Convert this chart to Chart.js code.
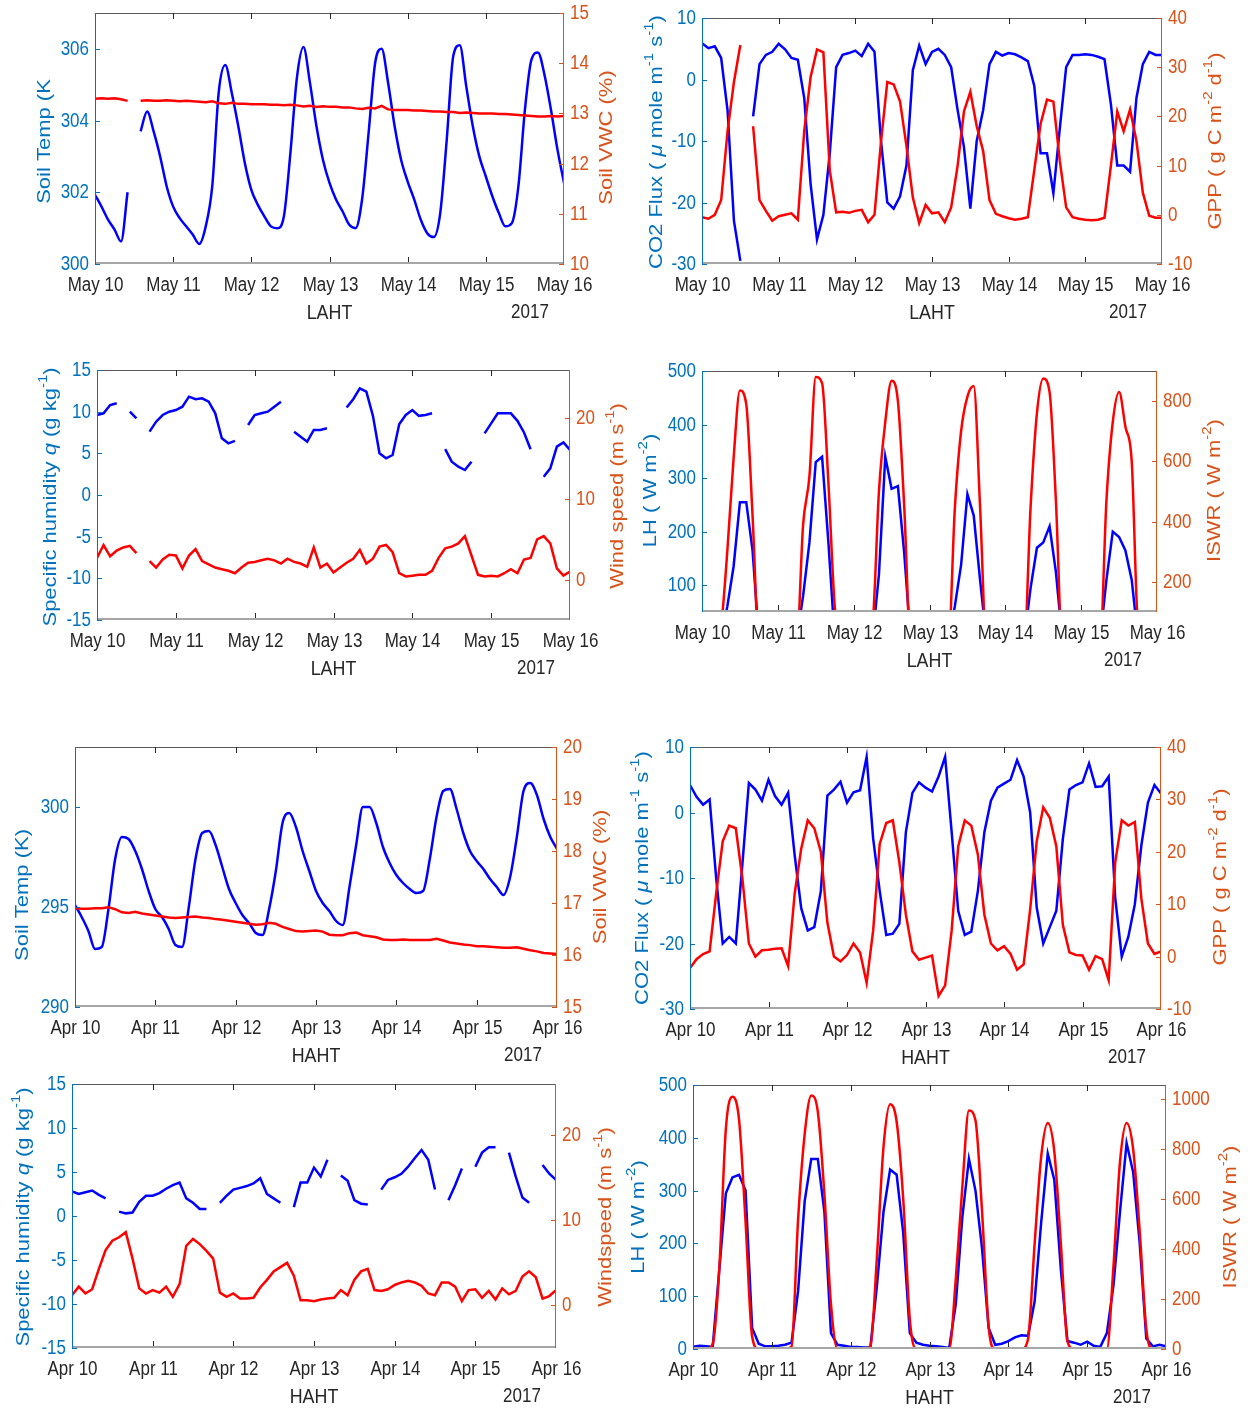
<!DOCTYPE html>
<html>
<head>
<meta charset="utf-8">
<script src="https://cdn.jsdelivr.net/npm/chart.js@4"></script>
<style>
  html, body { margin: 0; padding: 0; background: #fff; }
  #fig { position: relative; width: 1250px; height: 1412px; overflow: hidden; }
  #fig canvas { position: absolute; }
</style>
</head>
<body>
<div id="fig"></div>
<script>
// ---- data: one value every 2 hours, 6 days (73 values), null = missing ----
const mayLabels = ['May 10', 'May 11', 'May 12', 'May 13', 'May 14', 'May 15', 'May 16'];
const aprLabels = ['Apr 10', 'Apr 11', 'Apr 12', 'Apr 13', 'Apr 14', 'Apr 15', 'Apr 16'];
const dayTicks = [0, 1, 2, 3, 4, 5, 6];

const lahtSoilTemp = [
  301.93, 301.6, 301.24, 300.96, 300.63, 302.0, null, 303.7, 304.25, 303.7, 303.0, 302.17,
  301.6, 301.28, 301.05, 300.82, 300.56, 301.05, 302.17, 304.8, 305.55, 304.77, 303.84, 302.82,
  302.07, 301.65, 301.33, 301.05, 301.0, 301.33, 303.1, 305.2, 306.05, 305.05, 303.84, 302.9,
  302.26, 301.8, 301.47, 301.1, 301.0, 301.8, 303.65, 305.6, 306.0, 305.05, 303.84, 302.9,
  302.3, 301.8, 301.24, 300.86, 300.75, 301.42, 303.47, 305.8, 306.1, 304.95, 303.84, 303.0,
  302.44, 301.89, 301.42, 301.05, 301.14, 302.17, 304.3, 305.7, 305.9, 305.28, 304.3, 303.19,
  302.26
];
const lahtSoilVwc = [
  13.29, 13.30, 13.29, 13.30, 13.28, 13.25, null, 13.25, 13.26, 13.25, 13.25, 13.26,
  13.25, 13.24, 13.25, 13.24, 13.23, 13.22, 13.24, 13.20, 13.19, 13.21, 13.19, 13.19,
  13.18, 13.18, 13.18, 13.17, 13.17, 13.16, 13.17, 13.16, 13.14, 13.15, 13.13, 13.14,
  13.13, 13.13, 13.12, 13.12, 13.10, 13.09, 13.11, 13.10, 13.15, 13.08, 13.07, 13.07,
  13.07, 13.06, 13.06, 13.05, 13.04, 13.04, 13.03, 13.03, 13.01, 13.02, 13.01, 13.00,
  13.00, 13.00, 12.99, 12.99, 12.98, 12.97, 12.96, 12.95, 12.94, 12.94, 12.95, 12.94,
  12.95
];
const lahtCo2Flux = [
  5.9, 5.1, 5.4, 3.5, -5, -23, -29.5, null, -6, 2.5, 4.0, 4.5,
  5.8, 4.9, 3.5, 3.2, -3, -17, -26, -22, -12, 2.0, 4.0, 4.3,
  4.7, 3.8, 5.8, 4.5, -9.8, -20, -21, -19, -14, 1.5, 5.5, 2.5,
  4.5, 5.0, 4.0, 2.0, -4.9, -11, -21, -10, -5, 2.5, 4.5, 3.9,
  4.3, 4.1, 3.6, 3.0, -1, -12, -12, -18.5, -8, 2.0, 4.0, 4.0,
  4.1, 4.0, 3.7, 3.3, -4, -14, -14, -15, -3, 2.5, 4.5, 4.0,
  4.0
];
const lahtGpp = [
  -0.5, -0.8, 0.0, 3, 17, 27, 34.5, null, 18, 3, 0.8, -1.2,
  -0.3, 0, 0.3, -1, 17, 28, 33.6, 33, 9, 0.5, 0.6, 0.4,
  0.8, 1.0, -1.5, 0, 14.6, 27, 26.5, 23, 14, 3.5, -1.7, 2,
  0.3, 0.5, -1.5, 1.5, 9.9, 21, 25, 18, 13, 3, 0.2, -0.3,
  -0.7, -1, -0.8, -0.5, 9, 18.5, 23.4, 23, 11, 1.5, -0.5, -0.8,
  -1, -1.1, -1, -0.6, 10, 21, 17, 21.4, 15, 4.5, -0.2, -0.6,
  -0.6
];
const lahtHumidity = [
  9.6, 9.8, 10.8, 11.0, null, 10.0, 9.2, null, 7.6, 8.8, 9.6, 10.0,
  10.2, 10.6, 11.8, 11.5, 11.6, 11.2, 9.8, 6.8, 6.2, 6.5, null, 8.4,
  9.6, 9.8, 10.0, 10.6, 11.2, null, 7.6, 7.0, 6.4, 7.8, 7.8, 8.0,
  null, null, 10.5, 11.5, 12.8, 12.4, 9.5, 5.0, 4.4, 4.8, 8.5, 9.6,
  10.2, 9.5, 9.6, 9.8, null, 5.5, 4.0, 3.4, 3.0, 4.0, null, 7.4,
  8.6, 9.8, 9.8, 9.8, 8.9, 7.5, 5.5, null, 2.2, 3.2, 5.8, 6.3,
  5.4
];
const lahtWind = [
  2.7, 4.3, 2.9, 3.6, 4.0, 4.2, 3.3, null, 2.3, 1.5, 2.5, 3.1,
  3.0, 1.4, 3.0, 3.8, 2.3, 1.9, 1.5, 1.3, 1.1, 0.8, 1.5, 2.1,
  2.2, 2.4, 2.6, 2.4, 2.0, 2.6, 2.2, 2.0, 1.6, 4.0, 1.5, 2.0,
  0.9, 1.5, 2.1, 2.6, 3.7, 2.0, 2.6, 4.1, 4.3, 3.4, 0.8, 0.4,
  0.5, 0.6, 0.6, 1.1, 2.7, 3.9, 4.1, 4.5, 5.4, 3.0, 0.6, 0.4,
  0.5, 0.4, 0.8, 1.3, 0.8, 2.5, 2.7, 5.0, 5.4, 4.5, 1.4, 0.5,
  1.0
];
const lahtLh = [
  0, 0, 0, 0, 60, 135, 255, 255, 165, 0, 0, 0,
  0, 0, 0, 0, 80, 180, 330, 340, 180, 0, 0, 0,
  0, 0, 0, 0, 120, 340, 280, 285, 160, 0, 0, 0,
  0, 0, 0, 0, 60, 138, 270, 230, 110, 0, 0, 0,
  0, 0, 0, 0, 95, 170, 180, 210, 125, 0, 0, 0,
  0, 0, 0, 0, 110, 200, 190, 165, 110, 0, 0, 0,
  0
];
const lahtIswr = [
  0, 0, 0, 50, 300, 610, 835, 790, 420, 0, 0, 0,
  0, 0, 0, 0, 390, 550, 880, 860, 530, 120, 0, 0,
  0, 0, 0, 60, 500, 730, 868, 800, 450, 0, 0, 0,
  0, 0, 0, 0, 440, 700, 815, 850, 450, 0, 0, 0,
  0, 0, 0, 0, 450, 760, 875, 830, 470, 0, 0, 0,
  0, 0, 0, 0, 470, 730, 830, 715, 600, 50, 0, 0,
  0
];

const hahtSoilTemp = [
  295.1, 294.5, 293.8, 292.9, 293.0, 294.9, 297.4, 298.5, 298.4, 297.8, 296.9, 295.8,
  294.9, 294.5, 293.9, 293.1, 293.0, 295.0, 297.4, 298.7, 298.8, 298.1, 297.0, 295.9,
  295.2, 294.6, 294.2, 293.7, 293.6, 294.9, 296.8, 299.2, 299.7, 299.0, 297.8, 296.8,
  295.8, 295.2, 294.8, 294.3, 294.1, 296.0, 298.1, 300.0, 300.0, 299.2, 298.0, 297.2,
  296.6, 296.2, 295.9, 295.7, 295.8, 297.4, 299.5, 300.8, 300.9, 299.9, 298.7, 297.8,
  297.3, 296.9, 296.4, 296.0, 295.6, 296.5, 298.5, 300.8, 301.2, 300.6, 299.4, 298.5,
  297.9
];
const hahtSoilVwc = [
  16.90, 16.89, 16.89, 16.90, 16.90, 16.92, 16.88, 16.82, 16.81, 16.83, 16.80, 16.78,
  16.76, 16.74, 16.72, 16.71, 16.72, 16.73, 16.74, 16.72, 16.71, 16.69, 16.68, 16.66,
  16.64, 16.62, 16.60, 16.58, 16.59, 16.62, 16.60, 16.54, 16.50, 16.46, 16.45, 16.46,
  16.47, 16.45, 16.39, 16.38, 16.38, 16.42, 16.43, 16.38, 16.36, 16.34, 16.30, 16.29,
  16.29, 16.30, 16.29, 16.29, 16.29, 16.29, 16.31, 16.28, 16.24, 16.22, 16.20, 16.19,
  16.17, 16.17, 16.16, 16.15, 16.14, 16.14, 16.15, 16.12, 16.09, 16.07, 16.04, 16.03,
  16.02
];
const hahtCo2Flux = [
  4.2, 2.4, 1.2, 2.0, -10, -20, -19, -20, -8, 4.5, 3.5, 1.8,
  5.0, 2.5, 1.2, 3.0, -6.5, -14.6, -18, -17.5, -12, 2.6, 3.5, 4.7,
  1.5, 3.1, 3.4, 8.5, -4, -12, -18.7, -18.5, -17, -3, 3.0, 4.6,
  3.8, 3.2, 5.5, 8.5, -3, -15, -18.7, -18.2, -12, -3, 1.8, 3.8,
  4.4, 5.0, 8.0, 5.5, 0, -14.5, -20, -17.5, -15, -4, 3.5, 4.2,
  4.6, 7.5, 3.9, 4.0, 5.5, -13, -22, -19, -14, -5, 1.5, 4.2,
  2.9
];
const hahtGpp = [
  -2.2, -0.5, 0.5, 1.0, 12, 22, 25, 24.5, 15, 2.5, 0, 1.2,
  1.3, 1.5, 1.6, -1.8, 12, 20.6, 26, 24.5, 20, 6.5, 0, -0.9,
  0.3, 2.5, 0.8, -5, 5, 21.5, 25.5, 26, 18, 8, 1.0, -0.6,
  -0.2, 0.2, -7.5, -5.5, 5, 21, 26, 25, 19.5, 8, 2.5, 1.2,
  2.0, 0.5, -2.5, -1.5, 9, 22, 28.5, 26.5, 21, 6, 0.8, 0.3,
  0.2, -2.5, 0.1, -0.5, -4.5, 18, 26, 25, 25.7, 11, 2.5, 0.5,
  1.0
];
const hahtHumidity = [
  2.8, 2.5, 2.7, 2.9, 2.4, 2.0, null, 0.5, 0.3, 0.4, 1.6, 2.3,
  2.3, 2.6, 3.1, 3.5, 3.8, 2.0, 1.5, 0.8, 0.8, null, 1.5, 2.3,
  3.0, 3.2, 3.4, 3.7, 4.3, 2.5, 2.0, 1.5, null, 1.0, 3.8, 3.8,
  5.5, 4.5, 6.4, null, 4.6, 4.0, 1.8, 1.4, 1.3, null, 3.0, 4.1,
  4.4, 4.8, 5.6, 6.6, 7.5, 6.4, 3.0, null, 1.8, 3.5, 5.4, null,
  5.6, 7.2, 7.8, 7.8, null, 7.2, 4.5, 2.1, 1.5, null, 5.8, 4.8,
  4.1
];
const hahtWind = [
  1.2, 2.2, 1.4, 1.9, 4.3, 6.5, 7.6, 8.0, 8.6, 5.5, 2.0, 1.4,
  1.8, 1.5, 2.2, 1.0, 2.5, 7.0, 7.8, 7.2, 6.4, 5.5, 1.5, 1.0,
  1.4, 0.8, 0.8, 0.9, 2.1, 3.0, 4.0, 4.5, 5.0, 3.5, 0.6, 0.6,
  0.5, 0.7, 0.8, 0.9, 1.8, 1.2, 3.0, 4.0, 4.3, 1.8, 1.7, 1.9,
  2.4, 2.7, 2.9, 2.7, 2.3, 1.4, 1.2, 2.7, 2.7, 2.2, 0.5, 1.8,
  1.9, 0.9, 1.7, 0.7, 2.0, 1.3, 1.7, 3.4, 4.0, 3.3, 0.8, 1.1,
  1.8
];
const hahtLh = [
  4, 6, 5, 4, 150, 295, 325, 330, 300, 40, 10, 5,
  5, 6, 8, 12, 110, 280, 360, 360, 260, 30, 8, 6,
  4, 4, 3, 3, 120, 260, 340, 330, 220, 30, 12, 8,
  6, 5, 4, 2, 85, 250, 360, 300, 190, 40, 8, 10,
  15, 22, 26, 25, 90, 240, 370, 320, 150, 15, 12, 8,
  14, 6, 4, 30, 120, 260, 390, 335, 200, 20, 5, 8,
  5
];
const hahtIswr = [
  0, 0, 0, 20, 320, 880, 1010, 920, 510, 50, 0, 0,
  0, 0, 0, 10, 520, 860, 1015, 950, 620, 180, 0, 0,
  0, 0, 0, 10, 370, 810, 980, 910, 600, 120, 0, 0,
  0, 0, 0, 0, 280, 650, 955, 915, 550, 90, 0, 0,
  0, 0, 0, 40, 420, 770, 905, 790, 420, 30, 0, 0,
  0, 0, 0, 0, 330, 750, 905, 800, 470, 80, 0, 0,
  0
];

// tick labels
const lahtTempTicks = [300, 302, 304, 306];
const lahtVwcTicks = [10, 11, 12, 13, 14, 15];
const co2Ticks = [-30, -20, -10, 0, 10];
const gppTicks = [-10, 0, 10, 20, 30, 40];
const humidityTicks = [-15, -10, -5, 0, 5, 10, 15];
const windTicks = [0, 10, 20];
const lahtLhTicks = [100, 200, 300, 400, 500];
const lahtIswrTicks = [200, 400, 600, 800];
const hahtTempTicks = [290, 295, 300];
const hahtVwcTicks = [15, 16, 17, 18, 19, 20];
const hahtLhTicks = [0, 100, 200, 300, 400, 500];
const hahtIswrTicks = [0, 200, 400, 600, 800, 1000];

// ---- styling ----
const STEP_DAYS = 2 / 24;
const LINE_BLUE = '#0000ff';
const LINE_RED = '#ff0000';
const AX_BLUE = '#0072bd';
const AX_ORANGE = '#d95319';
const AX_GRAY = '#262626';
const FONT = '"Liberation Sans", Arial, Helvetica, sans-serif';
const SQUEEZE = 0.85;
const PAD = { l: 75, r: 85, t: 25, b: 70 };

const tSoilTemp = [['Soil Temp (K']];
const tSoilTempFull = [['Soil Temp (K)']];
const tVwc = [['Soil VWC (%)']];
const tCo2 = [['CO2 Flux ( '], ['\u03bc', 'i'], [' mole m'], ['-1', 's'], [' s'], ['-1', 's'], [')']];
const tGpp = [['GPP ( g C m'], ['-2', 's'], [' d'], ['-1', 's'], [')']];
const tHum = [['Specific humidity '], ['q', 'i'], [' (g kg'], ['-1', 's'], [')']];
const tWind = [['Wind speed (m s'], ['-1', 's'], [')']];
const tWind2 = [['Windspeed (m s'], ['-1', 's'], [')']];
const tLh = [['LH ( W m'], ['-2', 's'], [')']];
const tIswr = [['ISWR ( W m'], ['-2', 's'], [')']];

// plot boxes in page pixels: [left, top, right, bottom]; smooth = monotone line drawing
const panels = [
  { box: [95, 13, 564, 264], site: 'LAHT', days: mayLabels,
    left: { data: lahtSoilTemp, min: 300, max: 307, ticks: lahtTempTicks, title: tSoilTemp, at: [-50, 3], smooth: true },
    right: { data: lahtSoilVwc, min: 10, max: 15, ticks: lahtVwcTicks, title: tVwc, at: [43, -1] } },
  { box: [702, 18, 1162, 264], site: 'LAHT', days: mayLabels,
    left: { data: lahtCo2Flux, min: -30, max: 10, ticks: co2Ticks, title: tCo2, at: [-45, 1] },
    right: { data: lahtGpp, min: -10, max: 40, ticks: gppTicks, title: tGpp, at: [54, 0] } },
  { box: [97, 370, 570, 620], site: 'LAHT', days: mayLabels,
    left: { data: lahtHumidity, min: -15, max: 15, ticks: humidityTicks, title: tHum, at: [-46, 2] },
    right: { data: lahtWind, min: -5, max: 26, ticks: windTicks, title: tWind, at: [48, 1] } },
  { box: [702, 371, 1157, 612], site: 'LAHT', days: mayLabels,
    left: { data: lahtLh, min: 50, max: 500, ticks: lahtLhTicks, title: tLh, at: [-51, -1] },
    right: { data: lahtIswr, min: 100, max: 900, ticks: lahtIswrTicks, title: tIswr, at: [58, -1], smooth: true } },
  { box: [75, 747, 557, 1007], site: 'HAHT', days: aprLabels,
    left: { data: hahtSoilTemp, min: 290, max: 303, ticks: hahtTempTicks, title: tSoilTempFull, at: [-52, 18], smooth: true },
    right: { data: hahtSoilVwc, min: 15, max: 20, ticks: hahtVwcTicks, title: tVwc, at: [44, 0] } },
  { box: [690, 747, 1161, 1009], site: 'HAHT', days: aprLabels,
    left: { data: hahtCo2Flux, min: -30, max: 10, ticks: co2Ticks, title: tCo2, at: [-47, 0] },
    right: { data: hahtGpp, min: -10, max: 40, ticks: gppTicks, title: tGpp, at: [60, -1] } },
  { box: [72, 1084, 556, 1348], site: 'HAHT', days: aprLabels,
    left: { data: hahtHumidity, min: -15, max: 15, ticks: humidityTicks, title: tHum, at: [-48, 1] },
    right: { data: hahtWind, min: -5, max: 26, ticks: windTicks, title: tWind2, at: [50, 1] } },
  { box: [693, 1085, 1166, 1349], site: 'HAHT', days: aprLabels,
    left: { data: hahtLh, min: 0, max: 500, ticks: hahtLhTicks, title: tLh, at: [-54, 0] },
    right: { data: hahtIswr, min: 0, max: 1057, ticks: hahtIswrTicks, title: tIswr, at: [65, 0], smooth: true } }
];

function toPoints(vals) {
  return vals.map((v, i) => ({ x: i * STEP_DAYS, y: v }));
}

function segFont(seg, size) {
  if (seg[1] === 's') return Math.round(size * 0.7) + 'px ' + FONT;
  if (seg[1] === 'i') return 'italic ' + size + 'px ' + FONT;
  return size + 'px ' + FONT;
}

// rotated axis title, read bottom to top
function drawTitle(ctx, segs, cx, cy, size, color) {
  ctx.save();
  ctx.translate(cx, cy);
  ctx.rotate(-Math.PI / 2);
  ctx.scale(1, SQUEEZE);
  ctx.fillStyle = color;
  ctx.textBaseline = 'middle';
  ctx.textAlign = 'left';
  let w = 0;
  segs.forEach(s => { ctx.font = segFont(s, size); w += ctx.measureText(s[0]).width; });
  let x = -w / 2;
  segs.forEach(s => {
    ctx.font = segFont(s, size);
    ctx.fillText(s[0], x, s[1] === 's' ? -size * 0.4 : 0);
    x += ctx.measureText(s[0]).width;
  });
  ctx.restore();
}

function drawText(ctx, txt, x, y, size, color, align) {
  ctx.save();
  ctx.translate(x, y);
  ctx.scale(SQUEEZE, 1);
  ctx.font = size + 'px ' + FONT;
  ctx.fillStyle = color;
  ctx.textAlign = align;
  ctx.textBaseline = 'middle';
  ctx.fillText(txt, 0, 0);
  ctx.restore();
}

function line(ctx, x1, y1, x2, y2, color, width) {
  ctx.strokeStyle = color;
  ctx.lineWidth = width || 1;
  ctx.beginPath();
  ctx.moveTo(x1, y1);
  ctx.lineTo(x2, y2);
  ctx.stroke();
}

// MATLAB-like box with inward ticks, drawn from the chart's own scales
function axesPlugin(p) {
  return {
    id: 'matlabAxes',
    afterDraw(chart) {
      const ctx = chart.ctx;
      const a = chart.chartArea;
      const sx = chart.scales.x, sl = chart.scales.yL, sr = chart.scales.yR;
      ctx.save();
      line(ctx, a.left, a.top + 0.5, a.right, a.top + 0.5, '#5a5a5a');
      line(ctx, a.left, a.bottom - 1, a.right, a.bottom - 1, '#a6a6a6', 2);
      line(ctx, a.left + 0.5, a.top, a.left + 0.5, a.bottom, AX_BLUE);
      line(ctx, a.right - 0.5, a.top, a.right - 0.5, a.bottom, AX_ORANGE);

      sx.ticks.forEach(t => {
        const px = Math.round(sx.getPixelForValue(t.value)) + 0.5;
        if (t.value > 0 && t.value < 6) {
          line(ctx, px, a.bottom - 2, px, a.bottom - 7, AX_GRAY);
          line(ctx, px, a.top, px, a.top + 6, AX_GRAY);
        }
        drawText(ctx, p.days[t.value], px, a.bottom + 21, 20, AX_GRAY, 'center');
      });
      sl.ticks.forEach(t => {
        const py = Math.round(sl.getPixelForValue(t.value)) + 0.5;
        line(ctx, a.left, py, a.left + 5, py, AX_BLUE);
        drawText(ctx, String(t.value), a.left - 6, py, 20, AX_BLUE, 'right');
      });
      sr.ticks.forEach(t => {
        const py = Math.round(sr.getPixelForValue(t.value)) + 0.5;
        line(ctx, a.right, py, a.right - 5, py, AX_ORANGE);
        drawText(ctx, String(t.value), a.right + 6, py, 20, AX_ORANGE, 'left');
      });

      const cy = (a.top + a.bottom) / 2;
      drawText(ctx, p.site, (a.left + a.right) / 2, a.bottom + 49, 21, AX_GRAY, 'center');
      drawText(ctx, '2017', a.right - 34, a.bottom + 48, 20, AX_GRAY, 'center');
      drawTitle(ctx, p.left.title, a.left + p.left.at[0], cy + p.left.at[1], 22, AX_BLUE);
      drawTitle(ctx, p.right.title, a.right + p.right.at[0], cy + p.right.at[1], 22, AX_ORANGE);
      ctx.restore();
    }
  };
}

function yScale(side, cfg, pos) {
  return {
    type: 'linear',
    position: pos,
    min: cfg.min,
    max: cfg.max,
    grid: { display: false },
    border: { display: false },
    ticks: { display: false },
    afterBuildTicks: s => { s.ticks = cfg.ticks.map(v => ({ value: v })); },
    afterFit: s => { s.width = side; }
  };
}

function lineSet(cfg, axis, color) {
  const ds = {
    data: toPoints(cfg.data), yAxisID: axis, borderColor: color, borderWidth: 2.5,
    pointRadius: 0, tension: 0, spanGaps: false, clip: 0
  };
  if (cfg.smooth) ds.cubicInterpolationMode = 'monotone';
  return ds;
}

const fig = document.getElementById('fig');
panels.forEach(p => {
  const [l, t, r, b] = p.box;
  const canvas = document.createElement('canvas');
  canvas.width = (r - l) + PAD.l + PAD.r;
  canvas.height = (b - t) + PAD.t + PAD.b;
  canvas.style.left = (l - PAD.l) + 'px';
  canvas.style.top = (t - PAD.t) + 'px';
  canvas.style.width = canvas.width + 'px';
  canvas.style.height = canvas.height + 'px';
  fig.appendChild(canvas);

  new Chart(canvas, {
    type: 'line',
    data: {
      datasets: [
        lineSet(p.right, 'yR', LINE_RED),
        lineSet(p.left, 'yL', LINE_BLUE)
      ]
    },
    options: {
      responsive: false,
      animation: false,
      events: [],
      layout: { padding: { top: PAD.t, left: 0, right: 0, bottom: 0 } },
      plugins: { legend: { display: false }, tooltip: { enabled: false } },
      scales: {
        x: {
          type: 'linear', min: 0, max: 6,
          grid: { display: false }, border: { display: false }, ticks: { display: false },
          afterBuildTicks: s => { s.ticks = dayTicks.map(v => ({ value: v })); },
          afterFit: s => { s.height = PAD.b; }
        },
        yL: yScale(PAD.l, p.left, 'left'),
        yR: yScale(PAD.r, p.right, 'right')
      }
    },
    plugins: [axesPlugin(p)]
  });
});
</script>
</body>
</html>
